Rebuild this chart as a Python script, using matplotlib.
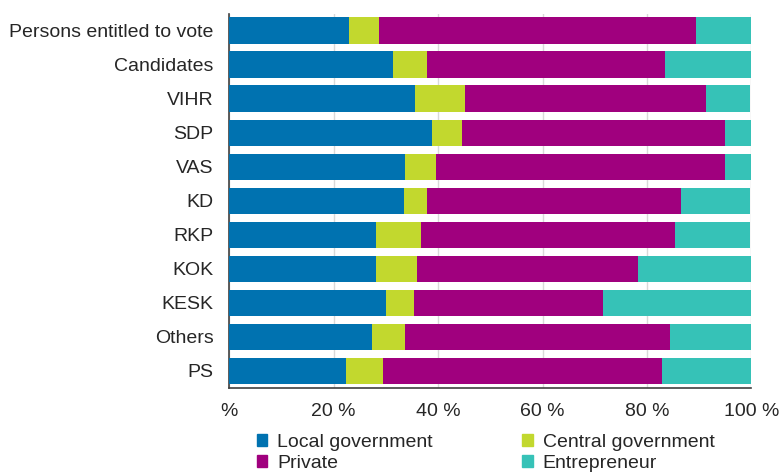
import numpy as np
import matplotlib.pyplot as plt
from matplotlib.patches import Patch

plt.rcParams['font.family'] = ['Liberation Sans', 'DejaVu Sans']

groups = ["Persons entitled to vote", "Candidates", "VIHR", "SDP", "VAS", "KD",
          "RKP", "KOK", "KESK", "Others", "PS"]
local_gov = [23.0, 31.3, 35.6, 38.9, 33.7, 33.4, 28.2, 28.2, 30.0, 27.3, 22.3]
central_gov = [5.8, 6.5, 9.5, 5.6, 5.9, 4.4, 8.5, 7.7, 5.5, 6.4, 7.2]
private = [60.5, 45.7, 46.1, 50.4, 55.3, 48.8, 48.6, 42.4, 36.0, 50.7, 53.4]
entrepreneur = [10.7, 16.5, 8.5, 5.1, 5.1, 13.1, 14.4, 21.7, 28.5, 15.6, 17.1]

series = ["Local government", "Central government", "Private", "Entrepreneur"]
colors = ["#0072B0", "#C2D82E", "#A0007E", "#36C2B7"]
xticks = [0, 20, 40, 60, 80, 100]
xtick_labels = ["%", "20 %", "40 %", "60 %", "80 %", "100 %"]

fig = plt.figure(figsize=(7.8, 4.74), dpi=100)
ax = fig.add_axes([229 / 780, 1 - 388 / 474, (751.5 - 229) / 780, (388 - 13.7) / 474])

y = np.arange(len(groups))
left = np.zeros(len(groups))
for vals, col in zip([local_gov, central_gov, private, entrepreneur], colors):
    ax.barh(y, vals, left=left, height=0.78, color=col, zorder=3)
    left += np.array(vals)

ax.set_ylim(len(groups) - 0.5, -0.5)
ax.set_xlim(0, 100)
ax.set_yticks(y)
ax.set_yticklabels(groups, fontsize=14, color="#262626")
ax.set_xticks(xticks)
ax.set_xticklabels(xtick_labels, fontsize=14, color="#262626")
ax.tick_params(axis="both", length=0)
ax.tick_params(axis="y", pad=11)
ax.tick_params(axis="x", pad=11)
ax.grid(axis="x", color="#d9d9d9", linewidth=1, zorder=0)
for s in ["top", "right"]:
    ax.spines[s].set_visible(False)
for s in ["left", "bottom"]:
    ax.spines[s].set_color("#404040")
    ax.spines[s].set_linewidth(1.2)

handles = [Patch(color=c) for c in colors]
order = [0, 2, 1, 3]
fig.legend([handles[i] for i in order], [series[i] for i in order],
           ncol=2, loc="upper left", bbox_to_anchor=(247 / 780, 1 - 424 / 474),
           frameon=False, fontsize=14, handlelength=0.55, handleheight=0.55,
           handletextpad=0.5, columnspacing=4.6, labelspacing=0.2, borderpad=0,
           labelcolor="#262626")

fig.savefig("out.png", dpi=100)
